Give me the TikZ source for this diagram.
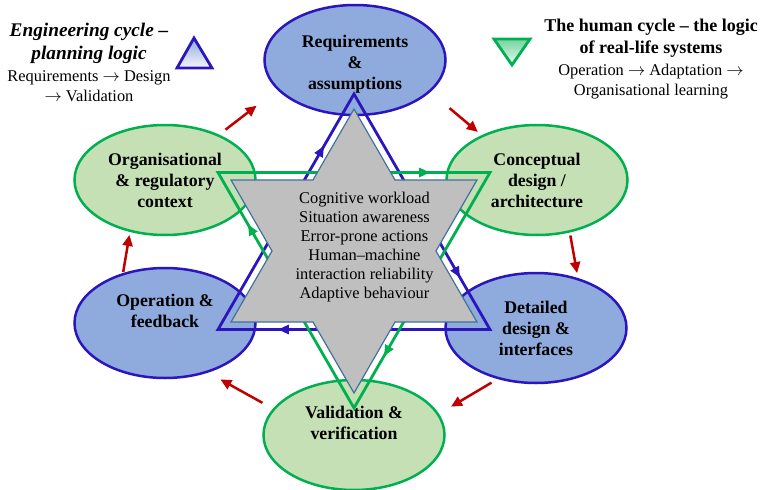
\documentclass[tikz,border=0pt]{standalone}
\usepackage{fontspec}
\setmainfont{Liberation Serif}
\usepackage{tikz}
\usetikzlibrary{shapes}
\usetikzlibrary{positioning}
\usetikzlibrary{arrows.meta,decorations.markings}
\usepackage{xcolor}

\definecolor{cellblue}{HTML}{8FAADC}
\definecolor{edgeblue}{RGB}{43,22,190}
\definecolor{cellgreen}{HTML}{C5E0B4}
\definecolor{edgegreen}{HTML}{00B050}
\definecolor{coregrey}{HTML}{BFBFBF}
\definecolor{coreedge}{HTML}{41719C}
\definecolor{flowred}{HTML}{C00000}

\begin{document}
\begin{tikzpicture}[x=1pt, y=-1pt,
  cell/.style={ellipse, minimum width=181pt, minimum height=110pt, inner sep=0pt,
    line width=2.5pt, align=center, font=\fontsize{17.8}{21}\selectfont\bfseries},
  bluecell/.style={cell, fill=cellblue, draw=edgeblue},
  greencell/.style={cell, fill=cellgreen, draw=edgegreen},
  flow/.style={flowred, line width=2.5pt, -{Triangle[length=11pt,width=10pt]}},
  loopmarks/.style={postaction={decorate}, decoration={markings,
    mark=between positions 0.26 and 1 step 0.3333 with {\arrow{Triangle[length=11pt,width=9pt]}}}},
  bluerun/.style={edgeblue, line width=2.8pt, loopmarks},
  greenrun/.style={edgegreen, line width=2.8pt, loopmarks},
  corestar/.style={fill=coregrey, draw=coreedge, line width=1.2pt},
  coretext/.style={align=center, inner sep=0pt, font=\fontsize{16.4}{19}\selectfont},
  legendsub/.style={align=center, inner sep=0pt, font=\fontsize{16.4}{19.6}\selectfont}]
\useasboundingbox (0,0) rectangle (761,490);

% the six stages
\node[bluecell] (req) at (355,60) {\raisebox{-4pt}[\height][\depth]{\begin{tabular}{@{}c@{}}Requirements\\\&\\assumptions\end{tabular}}};
\node[greencell] (conc) at (537,180) {Conceptual\\design /\\architecture};
\node[bluecell] (det) at (536,328) {Detailed\\design \&\\interfaces};
\node[greencell] (val) at (354,435) {\raisebox{10pt}[\height][\depth]{\begin{tabular}{@{}c@{}}Validation \&\\verification\end{tabular}}};
\node[bluecell] (oper) at (165,323) {\raisebox{10pt}[\height][\depth]{\begin{tabular}{@{}c@{}}Operation \&\\feedback\end{tabular}}};
\node[greencell] (org) at (165,180) {Organisational\\\& regulatory\\context};

\draw[flow, shorten <=8pt, shorten >=26pt] (org.40) -- (req.201);
\draw[flow, shorten <=25pt, shorten >=5pt] (req.337) -- (conc.141);
\draw[flow, shorten <=3pt, shorten >=5pt] (conc.302) -- (det.50);
\draw[flow, shorten <=7pt, shorten >=14pt] (det.233) -- (val.14);
\draw[flow, shorten <=12pt, shorten >=14pt] (val.162) -- (oper.311);
\draw[flow, shorten <=1pt, shorten >=3pt] (oper.130) -- (org.236);

% the two cycles
\coordinate (bA) at (354,94);
\coordinate (bB) at (490,329.5);
\coordinate (bC) at (218,329.5);
\draw[bluerun] (bA) -- (bB) -- (bC) -- cycle;
\coordinate (gA) at (218,172.5);
\coordinate (gB) at (490,172.5);
\coordinate (gC) at (354,408);
\draw[greenrun] (gA) -- (gB) -- (gC) -- cycle;

\filldraw[corestar, shift={(354,251)}] (90:142)
  \foreach \a in {0,60,...,300} { -- ({\a+120}:82) -- ({\a+150}:142) } -- cycle;
\node[coretext] (core) at (364.5,247.5) {Cognitive workload\\Situation awareness\\Error-prone actions\\Human--machine\\interaction reliability\\Adaptive behaviour};

% legends
\shadedraw[draw=edgeblue, line width=2.8pt, top color=cellblue, bottom color=white!90!cellblue] (194,38) -- (212,68) -- (177,68) -- cycle;
\node[align=center, inner sep=0pt, font=\fontsize{19.3}{23.3}\selectfont\bfseries\itshape] (engname) at (89,43.2) {Engineering cycle --\\planning logic};
\node[legendsub, below=7pt of engname] (engsteps) {Requirements $\rightarrow$ Design\\$\rightarrow$ Validation};

\shadedraw[draw=edgegreen, line width=2.8pt, top color=edgegreen!55!white, bottom color=edgegreen!8!white] (494,39) -- (530,39) -- (512,65) -- cycle;
\node[align=center, inner sep=0pt, font=\fontsize{18}{21.6}\selectfont\bfseries] (humname) at (651,38.3) {The human cycle -- the logic\\of real-life systems};
\node[legendsub, below=6.6pt of humname] (humsteps) {Operation $\rightarrow$ Adaptation $\rightarrow$\\Organisational learning};
\end{tikzpicture}
\end{document}
